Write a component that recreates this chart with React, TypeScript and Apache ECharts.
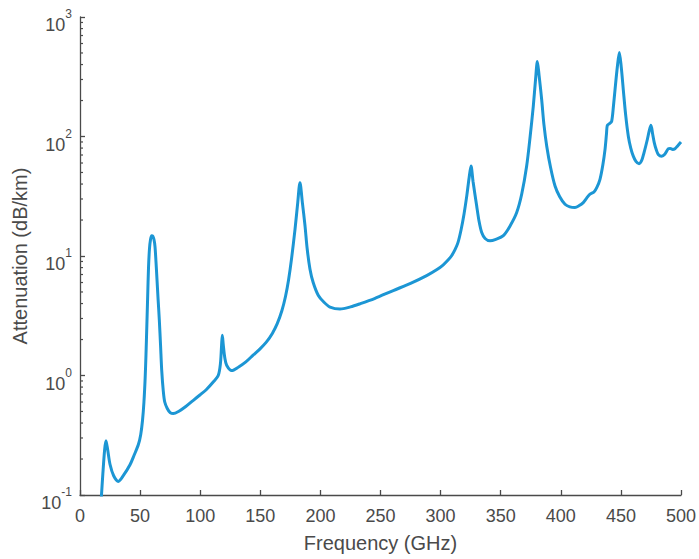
import React, { useEffect, useRef } from "react";
import * as echarts from "echarts";

const freqGHz: number[] = [
  17.6, 19.0, 20.5, 21.6, 23.0, 25.0, 28.0, 31.9, 36.0, 41.6, 45.0, 48.5, 50.5, 52.0, 53.2, 54.2,
  54.9, 55.6, 56.3, 57.0, 57.8, 58.7, 59.6, 60.5, 61.5, 62.4, 63.2, 64.0, 65.0, 66.0, 67.0, 68.0,
  69.3, 70.5, 72.6, 75.0, 77.6, 82.0, 88.0, 94.3, 100.0, 105.0, 111.0, 115.0, 116.8, 117.8, 118.4,
  119.2, 120.5, 122.0, 126.2, 132.0, 138.0, 144.0, 150.0, 155.0, 160.0, 164.0, 168.0, 171.0, 173.5,
  176.0, 178.9, 181.0, 183.0, 185.0, 187.2, 189.0, 191.3, 194.0, 198.3, 203.0, 208.0, 216.3, 225.0,
  233.0, 245.0, 260.6, 275.0, 288.4, 297.0, 302.0, 306.0, 309.0, 312.0, 314.5, 317.0, 319.5, 321.8,
  323.7, 325.3, 327.0, 330.0, 332.0, 334.2, 337.0, 341.1, 346.0, 352.2, 358.0, 363.3, 367.5, 371.6,
  374.5, 377.1, 379.0, 380.5, 382.0, 384.1, 386.0, 388.3, 391.5, 395.2, 399.0, 403.5, 407.5, 411.8,
  415.0, 418.7, 421.5, 424.3, 427.6, 430.0, 432.6, 435.0, 436.8, 438.0, 438.7, 440.5, 442.3, 443.8,
  445.1, 447.0, 448.7, 450.3, 452.0, 454.0, 456.2, 458.2, 460.3, 462.5, 465.1, 467.3, 469.2, 472.0,
  473.6, 475.0, 476.4, 477.8, 479.5, 481.1, 483.9, 486.5, 489.4, 491.0, 493.1, 495.0, 497.0, 500.0,
];

const attenuationDbPerKm: number[] = [
  0.09, 0.15, 0.24, 0.284, 0.24, 0.18, 0.145, 0.13, 0.145, 0.179, 0.215, 0.263, 0.32, 0.42, 0.6, 0.95,
  1.5, 2.6, 4.6, 8.0, 11.5, 13.8, 14.8, 14.7, 13.8, 12.0, 9.0, 6.5, 4.3, 2.9, 1.8, 1.1,
  0.74, 0.6, 0.53, 0.49, 0.48, 0.5, 0.55, 0.62, 0.69, 0.76, 0.886, 1.0, 1.25, 1.8, 2.17,
  1.8, 1.4, 1.22, 1.1, 1.18, 1.3, 1.48, 1.68, 1.9, 2.25, 2.7, 3.5, 4.6, 6.3,
  9.5, 16.8, 27, 41, 28, 17.9, 11.5, 7.8, 6.0, 4.67, 4.1, 3.74, 3.6, 3.75,
  3.98, 4.4, 5.14, 5.9, 6.85, 7.7, 8.4, 9.2, 10.0, 11.3, 13.0, 16.5, 22.5, 32,
  45, 56.6, 42, 26.3, 19.5, 15.7, 14.0, 13.4, 13.8, 14.8, 18.0, 23.1, 33, 56.6,
  100, 179, 300, 424, 320, 203, 125, 83, 55, 38.5, 31.5, 27.1, 25.8, 25.5,
  26.3, 28, 30.5, 32.9, 34.3, 37.5, 43.8, 58, 78, 105, 124, 128, 134, 180,
  246, 380, 504, 380, 246, 150, 100, 80, 68.5, 62, 59.2, 63, 73, 94.4,
  112, 124, 105, 88.5, 77, 70.8, 68.5, 71, 78.9, 79.5, 78, 79, 83, 89.8,
];

const xTicks: number[] = [0, 50, 100, 150, 200, 250, 300, 350, 400, 450, 500];
const yDecades: number[] = [-1, 0, 1, 2, 3];
const minorMultipliers: number[] = [2, 3, 4, 5, 6, 7, 8, 9];

const AXIS_COLOR = "#4a4a4a";
const TEXT_COLOR = "#4a4a4a";
const LINE_COLOR = "#1c96d4";
const FONT = "'Liberation Sans', Arial, Helvetica, sans-serif";

export default function App() {
  const ref = useRef<HTMLDivElement>(null);

  useEffect(() => {
    if (!ref.current) return;
    const chart = echarts.init(ref.current, undefined, { renderer: "svg" });
    const data = freqGHz.map((f, i) => [f, attenuationDbPerKm[i]]);

    chart.setOption({
      animation: false,
      backgroundColor: "#ffffff",
      grid: { left: 80, right: 18, top: 17, bottom: 64, containLabel: false, outerBoundsMode: "none" },
      xAxis: {
        type: "value",
        min: xTicks[0],
        max: xTicks[xTicks.length - 1],
        interval: 50,
        name: "Frequency (GHz)",
        nameLocation: "middle",
        nameGap: 38,
        nameTextStyle: { fontSize: 20, color: TEXT_COLOR, fontFamily: FONT },
        axisLine: { show: true, lineStyle: { color: AXIS_COLOR, width: 1.3 } },
        axisTick: { show: true, inside: true, length: 5, lineStyle: { color: AXIS_COLOR, width: 1.3 } },
        axisLabel: { fontSize: 18, color: TEXT_COLOR, fontFamily: FONT, margin: 12 },
        splitLine: { show: false },
      },
      yAxis: {
        type: "log",
        logBase: 10,
        min: Math.pow(10, yDecades[0]),
        max: Math.pow(10, yDecades[yDecades.length - 1]),
        name: "Attenuation (dB/km)",
        nameLocation: "middle",
        nameGap: 48,
        nameTextStyle: { fontSize: 20, color: TEXT_COLOR, fontFamily: FONT },
        axisLine: { show: true, lineStyle: { color: AXIS_COLOR, width: 1.3 } },
        axisTick: { show: true, inside: true, length: 5, lineStyle: { color: AXIS_COLOR, width: 1.3 } },
        axisLabel: {
          margin: 8,
          color: TEXT_COLOR,
          fontFamily: FONT,
          padding: [8, 0, 0, 0],
          formatter: (v: number) => {
            const e = Math.round(Math.log10(v));
            return `{b|10}{s|${e}}`;
          },
          rich: {
            b: { fontSize: 18, color: TEXT_COLOR, fontFamily: FONT, padding: [8, 0, 0, 0], verticalAlign: "bottom" },
            s: { fontSize: 12, color: TEXT_COLOR, fontFamily: FONT, verticalAlign: "top" },
          },
        },
        splitLine: { show: false },
      },
      series: [
        {
          type: "line",
          data,
          showSymbol: false,
          smooth: 0.3,
          clip: true,
          lineStyle: { color: LINE_COLOR, width: 3 },
        },
      ],
    });

    const graphics: any[] = [];
    for (let d = yDecades[0]; d < yDecades[yDecades.length - 1]; d++) {
      for (const k of minorMultipliers) {
        const v = k * Math.pow(10, d);
        const p = chart.convertToPixel({ gridIndex: 0 }, [0, v]) as number[];
        graphics.push({
          type: "line",
          shape: { x1: p[0], y1: p[1], x2: p[0] + 3, y2: p[1] },
          style: { stroke: AXIS_COLOR, lineWidth: 1.2 },
          silent: true,
        });
      }
    }
    chart.setOption({ graphic: graphics });

    return () => chart.dispose();
  }, []);

  return <div ref={ref} style={{ position: "absolute", left: 0, top: 0, width: 699, height: 559 }} />;
}
